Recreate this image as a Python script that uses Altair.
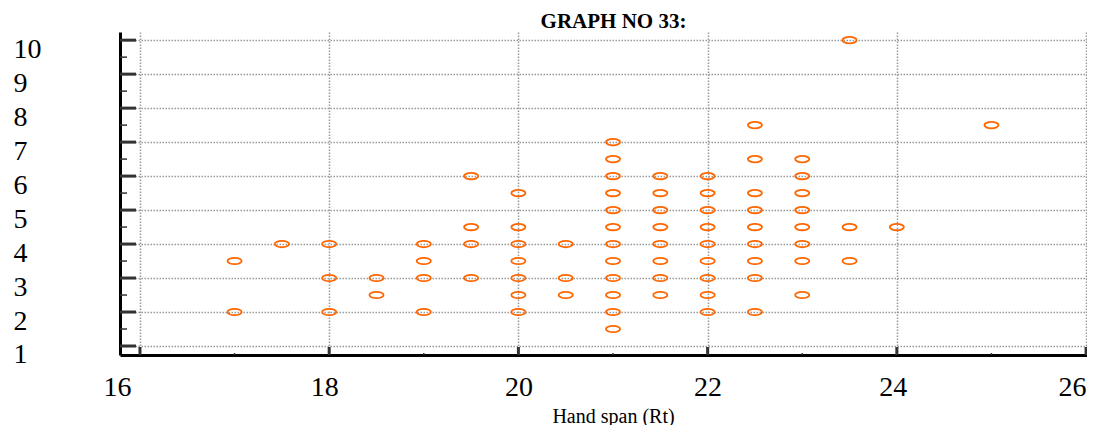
import altair as alt
import pandas as pd

# Scatter data (hand span Rt, value)
hand_span = [17, 17, 17.5, 18, 18, 18, 18.5, 18.5, 19, 19, 19, 19,
             19.5, 19.5, 19.5, 19.5,
             20, 20, 20, 20, 20, 20, 20,
             20.5, 20.5, 20.5,
             21, 21, 21, 21, 21, 21, 21, 21, 21, 21, 21, 21,
             21.5, 21.5, 21.5, 21.5, 21.5, 21.5, 21.5, 21.5,
             22, 22, 22, 22, 22, 22, 22, 22, 22,
             22.5, 22.5, 22.5, 22.5, 22.5, 22.5, 22.5, 22.5, 22.5,
             23, 23, 23, 23, 23, 23, 23, 23,
             23.5, 23.5, 23.5, 24, 25]
value = [2, 3.5, 4, 2, 3, 4, 2.5, 3, 2, 3, 3.5, 4,
         3, 4, 4.5, 6,
         2, 2.5, 3, 3.5, 4, 4.5, 5.5,
         2.5, 3, 4,
         1.5, 2, 2.5, 3, 3.5, 4, 4.5, 5, 5.5, 6, 6.5, 7,
         2.5, 3, 3.5, 4, 4.5, 5, 5.5, 6,
         2, 2.5, 3, 3.5, 4, 4.5, 5, 5.5, 6,
         2, 3, 3.5, 4, 4.5, 5, 5.5, 6.5, 7.5,
         2.5, 3.5, 4, 4.5, 5, 5.5, 6, 6.5,
         3.5, 4.5, 10, 4.5, 7.5]

x_major = [16, 18, 20, 22, 24, 26]
x_minor = [17, 19, 21, 23, 25]
y_major = [1, 2, 3, 4, 5, 6, 7, 8, 9, 10]
y_minor = [1.5, 2.5, 3.5, 4.5, 5.5, 6.5, 7.5, 8.5, 9.5]

df = pd.DataFrame({"x": hand_span, "y": value})
df_xmaj = pd.DataFrame({"x": x_major})
df_xmin = pd.DataFrame({"x": x_minor})
df_ymaj = pd.DataFrame({"y": y_major})
df_ymin = pd.DataFrame({"y": y_minor})

W, H = 967, 323
xscale = alt.Scale(domain=[15.789, 26.01], nice=False, zero=False)
yscale = alt.Scale(domain=[0.735, 10.24], nice=False, zero=False)

SERIF = "Liberation Serif"
grid_kw = dict(grid=True, gridDash=[1.5, 1.5], gridColor="#999999", gridWidth=1.5,
               domainColor="black", domainWidth=3, ticks=False, tickSize=0,
               labelFlush=False, labelOverlap=False, labelColor="black",
               labelFont=SERIF, labelFontSize=28)

x_label_offset = {
    "condition": [
        {"test": "datum.value == 16", "value": -23},
        {"test": "datum.value == 18", "value": -5},
        {"test": "datum.value == 24", "value": -4},
        {"test": "datum.value == 26", "value": -14},
    ],
    "value": 0,
}

x_axis = alt.Axis(values=x_major, format="d", labelPadding=18,
                  labelOffset=x_label_offset,
                  title="Hand span (Rt)", titleFont=SERIF, titleFontSize=20,
                  titleFontWeight="normal", titleColor="black",
                  titleX=493, titleY=61, titleBaseline="middle", titleAlign="center",
                  **grid_kw)
y_axis = alt.Axis(values=y_major, format="d", title=None, labelAlign="left",
                  labelBaseline="middle", labelPadding=107, labelOffset=9,
                  **grid_kw)

ellipse = "M-1,0A1,0.45,0,1,1,1,0A1,0.45,0,1,1,-1,0Z"

points = alt.Chart(df).mark_point(
    shape=ellipse, size=200, filled=False, color="#FF6600", strokeWidth=1.8, opacity=1
).encode(
    x=alt.X("x:Q", scale=xscale, axis=x_axis),
    y=alt.Y("y:Q", scale=yscale, axis=y_axis),
)

ymaj = alt.Chart(df_ymaj).mark_rule(color="#333333", strokeWidth=3).encode(
    y=alt.Y("y:Q", scale=yscale, axis=y_axis), x=alt.value(0), x2=alt.value(16))
ymin = alt.Chart(df_ymin).mark_rule(color="#333333", strokeWidth=1.5).encode(
    y=alt.Y("y:Q", scale=yscale, axis=y_axis), x=alt.value(0), x2=alt.value(7))
xmaj = alt.Chart(df_xmaj).mark_rule(color="#333333", strokeWidth=3).encode(
    x=alt.X("x:Q", scale=xscale, axis=x_axis), y=alt.value(H), y2=alt.value(H - 8))
xmin = alt.Chart(df_xmin).mark_rule(color="#333333", strokeWidth=1.5).encode(
    x=alt.X("x:Q", scale=xscale, axis=x_axis), y=alt.value(H), y2=alt.value(H - 2))

chart = alt.layer(points, ymaj, ymin, xmaj, xmin).properties(
    width=W, height=H,
    autosize=alt.AutoSizeParams(type="none"),
    padding={"left": 112, "top": 24, "right": 0, "bottom": 70},
    title=alt.TitleParams("GRAPH NO 33:", font=SERIF, fontSize=21, fontWeight="bold",
                          color="black", anchor="middle", offset=0, dx=10),
    background="white",
).configure_view(stroke=None)

chart.save("out.html", embed_options={"renderer": "svg", "actions": False})
